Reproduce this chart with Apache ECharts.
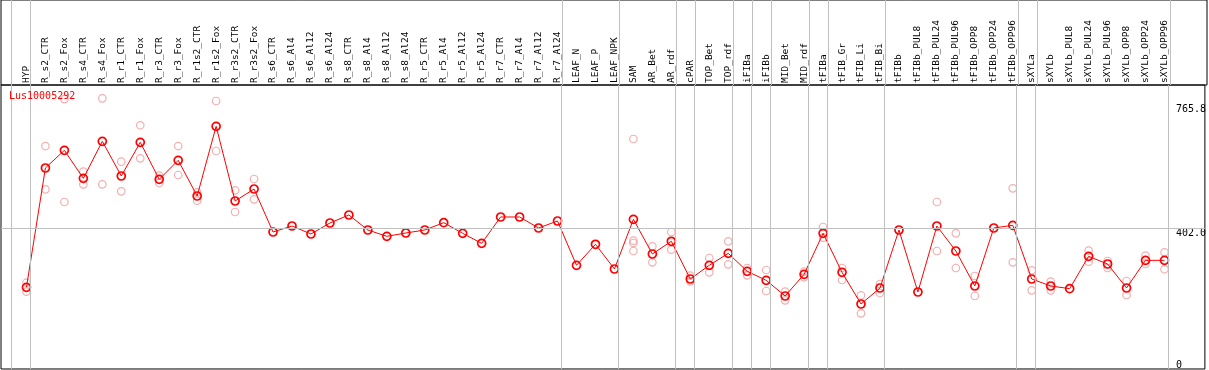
<!DOCTYPE html>
<html><head><meta charset="utf-8">
<script src="https://cdn.jsdelivr.net/npm/echarts@6/dist/echarts.min.js"></script>
<style>html,body{margin:0;padding:0;background:#fff}#c{width:1209px;height:370px}</style>
</head><body><div id="c"></div>
<script>
const geneName = 'Lus10005292';
const categories = ['HYP','R_s2_CTR','R_s2_Fox','R_s4_CTR','R_s4_Fox','R_r1_CTR','R_r1_Fox','R_r3_CTR','R_r3_Fox','R_r1s2_CTR','R_r1s2_Fox','R_r3s2_CTR','R_r3s2_Fox','R_s6_CTR','R_s6_Al4','R_s6_Al12','R_s6_Al24','R_s8_CTR','R_s8_Al4','R_s8_Al12','R_s8_Al24','R_r5_CTR','R_r5_Al4','R_r5_Al12','R_r5_Al24','R_r7_CTR','R_r7_Al4','R_r7_Al12','R_r7_Al24','LEAF_N','LEAF_P','LEAF_NPK','SAM','AR_Bet','AR_rdf','cPAR','TOP_Bet','TOP_rdf','iFIBa','iFIBb','MID_Bet','MID_rdf','tFIBa','tFIB_Gr','tFIB_Li','tFIB_Bi','tFIBb','tFIBb_PUL8','tFIBb_PUL24','tFIBb_PUL96','tFIBb_OPP8','tFIBb_OPP24','tFIBb_OPP96','sXYLa','sXYLb','sXYLb_PUL8','sXYLb_PUL24','sXYLb_PUL96','sXYLb_OPP8','sXYLb_OPP24','sXYLb_OPP96'];
const means = [228.5,579.4,631.4,549,657.8,555.9,654.9,546,602,497,702,482.4,517.6,391.2,408.8,385.3,417.6,441.2,397,378.4,388.2,397,418.6,387.2,357.8,435.3,435.3,403,423.5,293.2,355,282.4,428.4,326.5,363.8,252.9,293.2,328.4,275.5,249,203,266.7,387.2,272.5,179.4,226.5,397,214.7,408.8,335.3,232.4,403,410.8,252.9,232.4,224.5,319.6,297,226.5,307.8,307.8];
const replicates = [[242,215.6],[644,516.7],[782,479.4],[568.6,531.4],[784.3,531.4],[598,510.8],[705,607.8],[556.9,535.3],[644,558.8],[507.8,483.3],[776.5,629.4],[513.7,450],[547,487.3],
[],[],[],[],[],[],[],[],[],[],[],[],[],[],[],[],[],[],[],
[664.7,365.6,358.8,335.3],[349,302],[391.2,339.2],[262.6,246],[314.7,272.5],[363.8,296],[285.3,263.7],[279.4,217.6],[215.7,190.2],[274.5,258],[405.9,374.5],[285.3,250],[205,152],[238.2,211.8],
[],[],[479.4,335.3],[387.2,285.3],[261.8,203],[],[519.6,302],[278.4,219.6],[245,219.6],[],[336.3,303.9],[305.9,285.3],[247,205.9],[321.5,297],[331.4,281.5]];
const groupEnds = [-1,0,28,31,34,35,37,38,39,41,42,45,52,53,60];
const yTickValues = [0, 402.0, 765.8];
const yTickLabels = ['0', '402.0', '765.8'];
const gridValue = 402.0;

const X_MIN = -1.342, X_MAX = 62.13, SEP_OFFSET = 0.21;
const Y_MIN = -11.76, Y_MAX = 823.5;
const FONT = 'DejaVu Sans Mono';

const repData = [];
replicates.forEach((arr, i) => arr.forEach(v => repData.push([i, v])));
const sepLines = groupEnds.map(g => ({xAxis: g + SEP_OFFSET}));
const lineStyleSep = {color:'#c0c0c0', width:1, type:'solid'};

const chart = echarts.init(document.getElementById('c'), null, {renderer:'canvas'});
chart.setOption({
  animation: false,
  backgroundColor: '#fff',
  title: {text: geneName, left: 9, top: 91, padding: 0,
    textStyle: {color:'#ff0000', fontSize: 10, fontWeight:'normal', fontFamily: FONT}},
  grid: [
    {left:1, top:0, width:1206, height:85, show:true, borderColor:'#000', borderWidth:1, backgroundColor:'transparent'},
    {left:1, top:85, width:1206, height:284, show:true, borderColor:'#000', borderWidth:1, backgroundColor:'transparent'}
  ],
  xAxis: [
    {gridIndex:0, type:'value', min:X_MIN, max:X_MAX, show:false},
    {gridIndex:1, type:'value', min:X_MIN, max:X_MAX, position:'top',
      axisLine:{show:false}, axisTick:{show:false}, splitLine:{show:false},
      axisLabel:{customValues: categories.map((_, i) => i), formatter: v => categories[Math.round(v)],
        rotate: 90, margin: 2, fontFamily: FONT, fontSize: 9.5, color:'#000', padding:[0,0,4,0]}}
  ],
  yAxis: [
    {gridIndex:0, type:'value', min:0, max:1, show:false},
    {gridIndex:1, type:'value', min:Y_MIN, max:Y_MAX, position:'right',
      axisLine:{show:false}, axisTick:{show:false}, splitLine:{show:false},
      axisLabel:{inside:true, customValues: yTickValues.filter(v => v !== 0),
        formatter: v => yTickLabels[yTickValues.indexOf(v)],
        align:'left', margin:29, verticalAlign:'top', fontFamily: FONT, fontSize: 10, color:'#000'}},
    {gridIndex:1, type:'value', min:Y_MIN, max:Y_MAX, position:'right',
      axisLine:{show:false}, axisTick:{show:false}, splitLine:{show:false},
      axisLabel:{inside:true, customValues: yTickValues.filter(v => v === 0),
        formatter: v => yTickLabels[yTickValues.indexOf(v)],
        align:'left', margin:29, verticalAlign:'middle', fontFamily: FONT, fontSize: 10, color:'#000'}}
  ],
  series: [
    {type:'line', xAxisIndex:0, yAxisIndex:0, data:[], silent:true, z:1,
      markLine:{silent:true, symbol:['none','none'], label:{show:false}, lineStyle:lineStyleSep, data: sepLines}},
    {type:'line', xAxisIndex:1, yAxisIndex:1, data:[], silent:true, z:1,
      markLine:{silent:true, symbol:['none','none'], label:{show:false}, lineStyle:lineStyleSep,
        data: sepLines.concat([{yAxis: gridValue}])}},
    {type:'scatter', xAxisIndex:1, yAxisIndex:1, data: repData, symbol: 'circle', symbolSize: 7.5,
      itemStyle:{color:'rgba(255,255,255,0)', borderColor:'#f09a9a', borderWidth:1.2}, z:2, silent:true},
    {type:'line', xAxisIndex:1, yAxisIndex:1, data: means.map((v, i) => [i, v]), symbol: 'circle', symbolSize: 8,
      showAllSymbol:true, lineStyle:{color:'#ff0000', width:1},
      itemStyle:{color:'rgba(255,255,255,0)', borderColor:'#ff0000', borderWidth:1.7}, z:3, silent:true}
  ]
});
</script></body></html>
